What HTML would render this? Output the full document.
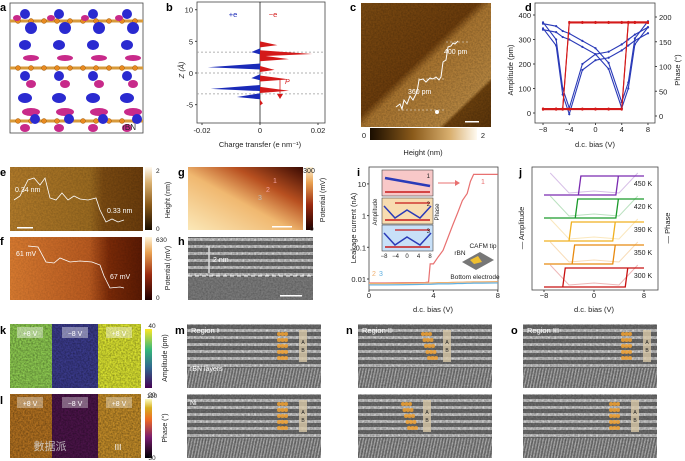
<!DOCTYPE html>
<html><head><meta charset="utf-8">
<style>
body{margin:0;background:#fff;width:685px;height:461px;overflow:hidden;font-family:"Liberation Sans","Noto Sans CJK SC",sans-serif}
svg{display:block}
text{font-family:"Liberation Sans","Noto Sans CJK SC",sans-serif}
</style></head>
<body>
<svg id="fig" width="685" height="461" viewBox="0 0 685 461">
<defs>
<linearGradient id="hgt" x1="0" x2="1"><stop offset="0" stop-color="#1a0d00"/><stop offset="0.4" stop-color="#8a5a1a"/><stop offset="0.75" stop-color="#d9b070"/><stop offset="1" stop-color="#fffaf0"/></linearGradient>
<linearGradient id="hgtv" x1="0" y1="1" x2="0" y2="0"><stop offset="0" stop-color="#1a0d00"/><stop offset="0.4" stop-color="#8a5a1a"/><stop offset="0.75" stop-color="#d9b070"/><stop offset="1" stop-color="#fffaf0"/></linearGradient>
<linearGradient id="potv" x1="0" y1="1" x2="0" y2="0"><stop offset="0" stop-color="#200000"/><stop offset="0.4" stop-color="#9a2a10"/><stop offset="0.75" stop-color="#e8a050"/><stop offset="1" stop-color="#fff4d8"/></linearGradient>
<linearGradient id="virv" x1="0" y1="1" x2="0" y2="0"><stop offset="0" stop-color="#440154"/><stop offset="0.35" stop-color="#31688e"/><stop offset="0.65" stop-color="#35b779"/><stop offset="1" stop-color="#fde725"/></linearGradient>
<linearGradient id="infv" x1="0" y1="1" x2="0" y2="0"><stop offset="0" stop-color="#000004"/><stop offset="0.35" stop-color="#781c6d"/><stop offset="0.65" stop-color="#ed6925"/><stop offset="0.85" stop-color="#d8b020"/><stop offset="1" stop-color="#fcfdbf"/></linearGradient>
<linearGradient id="cimg" x1="0" y1="0" x2="1" y2="1"><stop offset="0" stop-color="#7a4a12"/><stop offset="0.45" stop-color="#6b3c0c"/><stop offset="0.5" stop-color="#a97530"/><stop offset="0.8" stop-color="#b58540"/><stop offset="0.82" stop-color="#6b400e"/><stop offset="1" stop-color="#5a340a"/></linearGradient>
<linearGradient id="eimg" x1="0" x2="1"><stop offset="0" stop-color="#b07a2a"/><stop offset="0.6" stop-color="#9a6a20"/><stop offset="0.7" stop-color="#7a4a12"/><stop offset="1" stop-color="#6a3c0c"/></linearGradient>
<linearGradient id="fimg" x1="0" x2="1"><stop offset="0" stop-color="#d77a30"/><stop offset="0.6" stop-color="#b85a20"/><stop offset="0.75" stop-color="#7a2a08"/><stop offset="1" stop-color="#5a1a04"/></linearGradient>
<linearGradient id="gimg" x1="0" y1="1" x2="1" y2="0"><stop offset="0" stop-color="#fbe8b8"/><stop offset="0.45" stop-color="#f0b870"/><stop offset="0.7" stop-color="#b85020"/><stop offset="1" stop-color="#3a0a02"/></linearGradient>
<pattern id="hrtem" width="6" height="7" patternUnits="userSpaceOnUse"><rect width="6" height="7" fill="#6a6a6a"/><rect y="0" width="6" height="3" fill="#b8b8b8"/><circle cx="3" cy="1.5" r="1.1" fill="#d4d4d4"/></pattern>
<pattern id="nistr" width="3" height="6" patternUnits="userSpaceOnUse" patternTransform="skewX(-12)"><rect width="3" height="6" fill="#707070"/><rect width="1.3" height="6" fill="#b0b0b0"/></pattern>
<filter id="grain" x="0" y="0" width="100%" height="100%"><feTurbulence type="fractalNoise" baseFrequency="0.6" numOctaves="2" seed="3"/><feColorMatrix type="matrix" values="0 0 0 0 0  0 0 0 0 0  0 0 0 0 0  0 0 0 -1.4 1.0"/></filter>
</defs>
<g id="panels"></g>
</svg>
<script>
// ---- data arrays ----
const bBlueZ=[3.3,0.9,-0.8,-2.5,-3.8];
const bBlueV=[-0.003,-0.018,-0.003,-0.017,-0.008];
const bRedZ=[4.4,3.0,2.2,0.5,-1.0,-2.8,-4.8];
const bRedV=[0.006,0.018,0.010,0.005,0.010,0.010,0.001];
const bXTicks=[-0.02,0,0.02];
const bYTicks=[10,5,0,-5];
const dBias=[-8,-6,-5,-4,-2,0,2,4,5,6,8];
const dAmpFwd=[370,300,100,20,200,240,250,280,300,320,350];
const dAmpRev=[340,330,310,300,270,240,180,20,100,280,350];
const dPhaseFwd=[15,15,15,15,15,15,15,15,190,190,190];
const dPhaseRev=[15,15,15,190,190,190,190,190,190,190,190];
const dAmpTicks=[0,100,200,300,400];
const dPhTicks=[0,50,100,150,200];
const dXTicks=[-8,-4,0,4,8];
const iBias=[0,1,2,3,3.5,3.7,3.8,4.0,4.3,4.6,4.9,5.2,5.5,5.8,6.1,6.3,6.5,7,8];
const iCur1=[0.0075,0.0075,0.0076,0.0077,0.0078,0.008,0.03,0.03,0.05,0.08,0.2,0.5,1.2,3,5,12,20,20,20];
const iCur23=[0.0065,0.0065,0.0066,0.0067,0.0068,0.0068,0.0068,0.0069,0.007,0.007,0.007,0.0071,0.0072,0.0072,0.0073,0.0073,0.0074,0.0074,0.0075];
const iYTicks=[10,1,0.1,0.01];
const iXTicks=[0,4,8];
const jTemps=["450 K","420 K","390 K","350 K","300 K"];
const jColors=["#7a2ab0","#1a9a2a","#f0b020","#e88a10","#c81010"];
const jSwitchNeg=[-2.5,-3,-4,-3.5,-5];
const jSwitchPos=[3.5,3.5,3,3,5];
const jXTicks=[-8,0,8];

const NS="http://www.w3.org/2000/svg";
const root=document.getElementById('panels');
function el(tag,attrs,parent,txt){const e=document.createElementNS(NS,tag);for(const k in attrs)e.setAttribute(k,attrs[k]);if(txt!==undefined)e.textContent=txt;(parent||root).appendChild(e);return e;}
function grp(name){const g=el('g',{});return g;}
function T(g,x,y,s,size,anchor,fill,extra){return el('text',Object.assign({x:x,y:y,'font-size':size||8,'text-anchor':anchor||'middle',fill:fill||'#222'},extra||{}),g,s);}
function letter(g,x,y,s){const t=T(g,x,y,s,11,'start','#000',{'font-weight':'bold'});}
function grain(g,x,y,w,h,op){el('rect',{x:x,y:y,width:w,height:h,filter:'url(#grain)',opacity:op},g);}

// ---- panel a ----
(function(){const g=grp('panel-a');letter(g,0,11,'a');
el('rect',{x:10,y:3,width:133,height:130,fill:'#fff',stroke:'#444','stroke-width':0.8},g);
[21,68,121].forEach(y=>{el('rect',{x:10,y:y-1.5,width:133,height:3,fill:'#d89a3a'},g);for(let x=18;x<143;x+=13){el('circle',{cx:x,cy:y,r:2.5,fill:'#e88a20',stroke:'#8a4a00','stroke-width':0.4},g);}});
for(let i=0;i<4;i++){const cx=25+i*34;
[[14,5,5,'#2a2ad0'],[28,6,6,'#2a2ad0'],[45,6,5,'#2a2ad0'],[58,8,3,'#c82a8a'],[76,5,5,'#2a2ad0'],[84,5,4,'#c82a8a'],[98,7,5,'#2a2ad0'],[112,9,4,'#c82a8a'],[128,5,4,'#c82a8a']].forEach((b,k)=>{el('ellipse',{cx:cx+(k%2?6:0),cy:b[0],rx:b[1],ry:b[2],fill:b[3]},g);});
el('ellipse',{cx:cx-8,cy:18,rx:4,ry:3,fill:'#c82a8a'},g);el('ellipse',{cx:cx+10,cy:119,rx:5,ry:5,fill:'#2a2ad0'},g);}
T(g,136,130,'rBN',8,'end','#222');})();

// ---- panel b ----
(function(){const g=grp('panel-b');letter(g,166,11,'b');
const x0=197,x1=325,y0=2,y1=123;
const xs=v=>260+v*2900, ys=z=>73-z*6.33;
el('rect',{x:x0,y:y0,width:x1-x0,height:y1-y0,fill:'none',stroke:'#444','stroke-width':0.8},g);
el('line',{x1:260,y1:y0,x2:260,y2:y1,stroke:'#000','stroke-width':0.7},g);
[3.3,0,-3.3].forEach(z=>el('line',{x1:x0,y1:ys(z),x2:x1,y2:ys(z),stroke:'#999','stroke-dasharray':'2,2','stroke-width':0.7},g));
bBlueZ.forEach((z,i)=>{const p=el('polygon',{points:`${xs(0)},${ys(z+0.6)} ${xs(bBlueV[i])},${ys(z)} ${xs(0)},${ys(z-0.35)}`,fill:'#1a2ab8'},g);});
bRedZ.forEach((z,i)=>{const p=el('polygon',{points:`${xs(0)},${ys(z+0.6)} ${xs(bRedV[i])},${ys(z)} ${xs(0)},${ys(z-0.35)}`,fill:'#d41a1a'},g);});
bXTicks.forEach(v=>{el('line',{x1:xs(v),y1:y1,x2:xs(v),y2:y1+2,stroke:'#444'},g);T(g,xs(v),133,String(v),7.5);});
bYTicks.forEach(v=>{el('line',{x1:x0-2,y1:ys(v),x2:x0,y2:ys(v),stroke:'#444'},g);T(g,x0-4,ys(v)+3,String(v),7.5,'end');});
T(g,260,147,'Charge transfer (e nm⁻¹)',7.5);
T(g,184,70,'Z (Å)',7.5,'middle','#222',{transform:'rotate(-90 184 70)','font-style':'italic'});
T(g,233,17,'+e',7.5,'middle','#1a2ab8');T(g,273,17,'−e',7.5,'middle','#d41a1a');
el('line',{x1:280,y1:80,x2:280,y2:96,stroke:'#d41a1a','stroke-width':0.8},g);el('polygon',{points:'277,94 283,94 280,99',fill:'#d41a1a'},g);T(g,285,84,'P',7,'start','#d41a1a',{'font-style':'italic'});})();

// ---- panel c ----
(function(){const g=grp('panel-c');letter(g,350,11,'c');
el('rect',{x:361,y:3,width:130,height:124,fill:'url(#cimg)'},g);grain(g,361,3,130,124,0.25);
el('polyline',{points:'396,107 400,104 402,109 404,100 407,104 410,96 413,100 417,92 419,80 423,79 426,82 430,78 433,79 436,77 439,80 441,77 443,62 446,60 448,47 451,46 453,43 455,44 458,41',fill:'none',stroke:'#fff','stroke-width':1},g);
[[398,446,110],[418,446,79],[446,470,42]].forEach(d=>el('line',{x1:d[0],y1:d[2],x2:d[1],y2:d[2],stroke:'#eee','stroke-dasharray':'2,2','stroke-width':0.6},g));
T(g,444,54,'400 pm',7,'start','#fff');T(g,408,94,'360 pm',7,'start','#fff');
el('circle',{cx:437,cy:112,r:2,fill:'#fff'},g);el('rect',{x:465,y:121,width:14,height:1.5,fill:'#fff'},g);
el('rect',{x:370,y:128,width:107,height:12,fill:'url(#hgt)'},g);T(g,364,138,'0',7.5);T(g,483,138,'2',7.5);T(g,423,155,'Height (nm)',7.5);})();

// ---- panel d ----
(function(){const g=grp('panel-d');letter(g,525,11,'d');
const x0=535,x1=655,y0=3,y1=123;const xs=v=>595.5+v*6.56, ya=v=>113-v*0.245, yp=v=>116-v*0.495;
el('rect',{x:x0,y:y0,width:x1-x0,height:y1-y0,fill:'none',stroke:'#444','stroke-width':0.8},g);
const line=(arr,f,c,n,sh)=>{[0,1].forEach(o=>{const p=el('polyline',{points:dBias.map((b,i)=>xs(b)+','+(f(arr[i])+o*sh)).join(' '),fill:'none',stroke:c,'stroke-width':1.1},g);dBias.forEach((b,i)=>el('circle',{cx:xs(b),cy:f(arr[i])+o*sh,r:1.1,fill:c},g));});};
line(dAmpFwd,ya,'#2a3ab8','amplitude-forward',6);line(dAmpRev,ya,'#2a3ab8','amplitude-reverse',-6);
line(dPhaseFwd,yp,'#d41a1a','phase-forward',1);line(dPhaseRev,yp,'#d41a1a','phase-reverse',1);
dXTicks.forEach(v=>{el('line',{x1:xs(v),y1:y1,x2:xs(v),y2:y1+2,stroke:'#444'},g);T(g,xs(v),132,v<0?'−'+(-v):String(v),7.5);});
dAmpTicks.forEach(v=>{el('line',{x1:x0-2,y1:ya(v),x2:x0,y2:ya(v),stroke:'#444'},g);T(g,x0-4,ya(v)+3,String(v),7.5,'end');});
dPhTicks.forEach(v=>{el('line',{x1:x1,y1:yp(v),x2:x1+2,y2:yp(v),stroke:'#444'},g);T(g,x1+4,yp(v)+3,String(v),7.5,'start');});
T(g,595,147,'d.c. bias (V)',7.5);
T(g,513,70,'Amplitude (pm)',7.5,'middle','#222',{transform:'rotate(-90 513 70)'});
T(g,680,70,'Phase (°)',7.5,'middle','#222',{transform:'rotate(-90 680 70)'});})();

// ---- panel e,f ----
(function(){const g=grp('panel-e');letter(g,0,176,'e');
el('rect',{x:10,y:167,width:133,height:64,fill:'url(#eimg)'},g);grain(g,10,167,133,64,0.2);
el('polyline',{points:'14,200 20,196 28,180 34,178 40,185 45,178 50,198 56,200 62,193 68,200 74,196 80,199 88,200 96,198 100,210 106,222 112,219 118,222 124,220',fill:'none',stroke:'#fff','stroke-width':0.8},g);
T(g,15,192,'0.34 nm',7,'start','#fff');T(g,107,213,'0.33 nm',7,'start','#fff');el('rect',{x:17,y:227,width:16,height:1.5,fill:'#fff'},g);
el('rect',{x:145,y:167,width:7,height:63,fill:'url(#hgtv)'},g);T(g,156,173,'2',6.5,'start');T(g,156,231,'0',6.5,'start');
T(g,170,200,'Height (nm)',7,'middle','#222',{transform:'rotate(-90 170 200)'});
const f=grp('panel-f');letter(f,0,245,'f');
el('rect',{x:10,y:237,width:132,height:63,fill:'url(#fimg)'},f);grain(f,10,237,132,63,0.15);
el('polyline',{points:'28,246 38,247 46,262 54,263 60,258 70,262 80,261 92,262 100,265 104,276 110,288 120,287 124,288',fill:'none',stroke:'#fff','stroke-width':0.8},f);
T(f,16,256,'61 mV',7,'start','#fff');T(f,110,279,'67 mV',7,'start','#fff');
el('rect',{x:145,y:237,width:7,height:63,fill:'url(#potv)'},f);T(f,156,242,'630',6.5,'start');T(f,156,300,'0',6.5,'start');
T(f,170,268,'Potential (mV)',7,'middle','#222',{transform:'rotate(-90 170 268)'});})();

// ---- panel g,h ----
(function(){const g=grp('panel-g');letter(g,178,176,'g');
el('rect',{x:188,y:167,width:115,height:63,fill:'url(#gimg)'},g);
T(g,275,183,'1',7,'middle','#f3a0a0');T(g,268,192,'2',7,'middle','#f3a0a0');T(g,260,200,'3',7,'middle','#bbb');
el('rect',{x:272,y:226,width:20,height:1.5,fill:'#fff'},g);
el('rect',{x:306,y:167,width:7,height:63,fill:'url(#potv)'},g);T(g,309,173,'300',7,'middle');T(g,310,231,'0',6.5,'start');
T(g,325,200,'Potential (mV)',7,'middle','#222',{transform:'rotate(-90 325 200)'});
const h=grp('panel-h');letter(h,178,245,'h');
el('rect',{x:188,y:237,width:125,height:63,fill:'url(#hrtem)'},h);
el('rect',{x:188,y:277,width:125,height:23,fill:'#7a7a7a'},h);grain(h,188,237,125,63,0.3);
el('line',{x1:188,y1:276,x2:313,y2:276,stroke:'#fff','stroke-dasharray':'4,3','stroke-width':1},h);
el('line',{x1:209,y1:246,x2:209,y2:273,stroke:'#ddd','stroke-width':1.5},h);T(h,213,262,'2 nm',7,'start','#fff');
el('rect',{x:280,y:295,width:22,height:1.5,fill:'#fff'},h);})();

// ---- panel i ----
(function(){const g=grp('panel-i');letter(g,357,176,'i');
const x0=369,x1=498,y0=167,y1=290;const xs=v=>369+v*16.1, ys=v=>279-(Math.log10(v)+2)*31.7;
el('rect',{x:x0,y:y0,width:x1-x0,height:y1-y0,fill:'none',stroke:'#444','stroke-width':0.8},g);
const c1=el('polyline',{points:iBias.map((b,i)=>xs(b)+','+ys(iCur1[i])).join(' '),fill:'none',stroke:'#e87070','stroke-width':1.2},g);
const c2=el('polyline',{points:iBias.map((b,i)=>xs(b)+','+ys(iCur23[i]*1.1)).join(' '),fill:'none',stroke:'#f0b070','stroke-width':1.2},g);
const c3=el('polyline',{points:iBias.map((b,i)=>xs(b)+','+ys(iCur23[i])).join(' '),fill:'none',stroke:'#60b0e0','stroke-width':1.2},g);
iXTicks.forEach(v=>{el('line',{x1:xs(v),y1:y1,x2:xs(v),y2:y1+2,stroke:'#444'},g);T(g,xs(v),298,String(v),7.5);});
iYTicks.forEach(v=>{el('line',{x1:x0-2,y1:ys(v),x2:x0,y2:ys(v),stroke:'#444'},g);T(g,x0-3,ys(v)+3,String(v),7.5,'end');});
T(g,433,312,'d.c. bias (V)',7.5);T(g,356,228,'Leakage current (nA)',7.5,'middle','#222',{transform:'rotate(-90 356 228)'});
T(g,483,184,'1',7,'middle','#e87070');T(g,374,276,'2',7,'middle','#f0b070');T(g,381,276,'3',7,'middle','#60b0e0');
el('line',{x1:438,y1:183,x2:455,y2:183,stroke:'#e87070','stroke-width':1},g);el('polygon',{points:'455,180 460,183 455,186',fill:'#e87070'},g);
const ins=[['#f8c8c8',170],['#f8dcb0',198],['#c8e0f8',225]];
ins.forEach((c,k)=>{el('rect',{x:382,y:c[1],width:51,height:26,fill:c[0],stroke:'#444','stroke-width':0.6},g);
 el('line',{x1:385,y1:c[1]+22,x2:430,y2:c[1]+22,stroke:'#c81a1a','stroke-width':1.5},g);
 if(k>0){el('line',{x1:395,y1:c[1]+5,x2:430,y2:c[1]+5,stroke:'#c81a1a','stroke-width':1.2},g);
  el('polyline',{points:`384,${c[1]+8} 395,${c[1]+20} 407,${c[1]+12} 420,${c[1]+20} 431,${c[1]+8}`,fill:'none',stroke:'#2a3ab8','stroke-width':1.5},g);}
 else el('polyline',{points:`385,${c[1]+8} 430,${c[1]+16}`,fill:'none',stroke:'#2a3ab8','stroke-width':2.5},g);
 T(g,430,c[1]+8,String(k+1),6,'end');});
['−8','−4','0','4','8'].forEach((s,k)=>T(g,384+k*11.5,258,s,6));
T(g,377,212,'Amplitude',6,'middle','#222',{transform:'rotate(-90 377 212)'});T(g,439,212,'Phase',6,'middle','#222',{transform:'rotate(-90 439 212)'});
el('polygon',{points:'462,262 480,252 494,260 476,270',fill:'#777'},g);el('polygon',{points:'470,260 478,256 482,262 474,264',fill:'#f0c030'},g);
T(g,483,248,'CAFM tip',6.5);T(g,460,255,'rBN',6.5);T(g,475,279,'Bottom electrode',6.5);})();

// ---- panel j ----
(function(){const g=grp('panel-j');letter(g,519,176,'j');
const x0=532,x1=658,y0=167,y1=290;const xs=v=>594+v*6.25;
el('rect',{x:x0,y:y0,width:x1-x0,height:y1-y0,fill:'none',stroke:'#444','stroke-width':0.8},g);
jTemps.forEach((t,k)=>{const hi=176+k*23,lo=hi+19,c=jColors[k];
 el('polyline',{points:`${xs(-7)},${hi-3} ${xs(-4)},${lo-2} ${xs(0)},${lo-4} ${xs(4)},${lo-2} ${xs(7)},${hi-3}`,fill:'none',stroke:c,opacity:0.3,'stroke-width':1},g);
 const p=el('polyline',{points:`${xs(-8)},${lo} ${xs(jSwitchPos[k])},${lo} ${xs(jSwitchPos[k]+0.4)},${hi} ${xs(8)},${hi} ${xs(jSwitchNeg[k]+0.4)},${hi} ${xs(jSwitchNeg[k])},${lo}`,fill:'none',stroke:c,'stroke-width':1.3},g);
 
 T(g,643,hi+10,t,7,'middle','#222');});
jXTicks.forEach(v=>{el('line',{x1:xs(v),y1:y1,x2:xs(v),y2:y1+2,stroke:'#444'},g);T(g,xs(v),298,v<0?'−'+(-v):String(v),7.5);});
T(g,594,312,'d.c. bias (V)',7.5);T(g,524,228,'— Amplitude',7.5,'middle','#222',{transform:'rotate(-90 524 228)'});T(g,670,228,'— Phase',7.5,'middle','#222',{transform:'rotate(-90 670 228)'});})();

// ---- panel k,l ----
(function(){const g=grp('panel-k');letter(g,0,334,'k');
el('rect',{x:10,y:324,width:42,height:64,fill:'#8cc850'},g);el('rect',{x:52,y:324,width:46,height:64,fill:'#3a3a8a'},g);el('rect',{x:98,y:324,width:43,height:64,fill:'#d8e030'},g);grain(g,10,324,131,64,0.45);
[[30,'+8 V'],[75,'−8 V'],[119,'+8 V']].forEach(a=>{el('rect',{x:a[0]-13,y:327,width:26,height:11,fill:'#fff',opacity:0.4},g);T(g,a[0],336,a[1],7,'middle','#fff');});
el('rect',{x:145,y:329,width:7,height:59,fill:'url(#virv)'},g);T(g,152,328,'40',6.5,'middle');T(g,152,397,'20',6.5,'middle');
T(g,167,358,'Amplitude (pm)',7,'middle','#222',{transform:'rotate(-90 167 358)'});
const l=grp('panel-l');letter(l,0,404,'l');
el('rect',{x:10,y:394,width:42,height:64,fill:'#b07020'},l);el('rect',{x:52,y:394,width:46,height:64,fill:'#4a1448'},l);el('rect',{x:98,y:394,width:43,height:64,fill:'#c08a28'},l);grain(l,10,394,131,64,0.45);
[[30,'+8 V'],[75,'−8 V'],[119,'+8 V']].forEach(a=>{el('rect',{x:a[0]-13,y:397,width:26,height:11,fill:'#fff',opacity:0.35},l);T(l,a[0],406,a[1],7,'middle','#fff');});
T(l,50,450,'數据派',11,'middle','#ddd',{opacity:0.8});T(l,118,450,'III',8,'middle','#fff');
el('rect',{x:145,y:399,width:7,height:59,fill:'url(#infv)'},l);T(l,152,398,'110',6.5,'middle');T(l,152,460,'30',6.5,'middle');
T(l,167,428,'Phase (°)',7,'middle','#222',{transform:'rotate(-90 167 428)'});})();

// ---- panels m,n,o ----
[['m',187,'Region I'],['n',358,'Region II'],['o',523,'Region III']].forEach(p=>{
 const g=grp('panel-'+p[0]);letter(g,p[1]-12,334,p[0]);
 [324,394].forEach((y,r)=>{el('rect',{x:p[1],y:y,width:134,height:64,fill:'url(#hrtem)'},g);
  el('rect',{x:p[1],y:y+44,width:134,height:20,fill:'url(#nistr)'},g);grain(g,p[1],y,134,64,0.3);
  const ox=p[1]+(p[0]==='m'?92:p[0]==='n'?65:100)-(r&&p[0]==='n'?20:0)-(r&&p[0]==='o'?12:0);
  for(let k=0;k<5;k++){for(let j=0;j<3;j++)el('circle',{cx:ox+j*3.5+(p[0]==='n'?k*1.5:0),cy:y+10+k*6,r:2,fill:'#f0a030',opacity:0.85},g);}
  el('rect',{x:ox+20,y:y+6,width:8,height:32,fill:'#d8c8a8',opacity:0.8},g);
  T(g,ox+24,y+20,'A',5,'middle','#222');T(g,ox+24,y+28,'B',5,'middle','#222');});
 T(g,p[1]+4,333,p[2],7.5,'start','#fff');
});
(function(){const g=grp('region-labels');T(g,190,371,'rBN layers',7,'start','#fff');T(g,190,405,'Ni',7,'start','#fff');})();
</script>
</body></html>
